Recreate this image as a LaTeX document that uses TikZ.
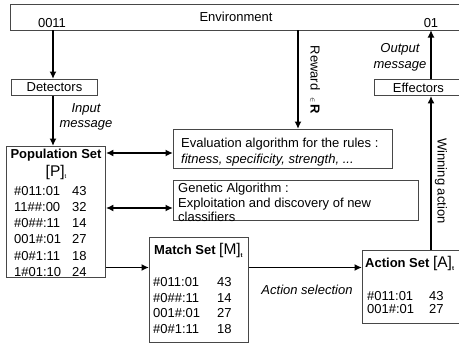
\documentclass[tikz,border=0pt]{standalone}
\usepackage{fontspec}
\setmainfont{Liberation Sans}
\usetikzlibrary{arrows.meta}
\newcommand{\tsub}{\raisebox{-2.5pt}{\fontsize{6}{6}\selectfont t}}
\begin{document}
\begin{tikzpicture}[x=1pt,y=-1pt,
  font=\fontsize{13}{15}\selectfont,
  box/.style={draw=black!72, line width=0.9pt, inner sep=0pt, anchor=north west},
  txt/.style={inner sep=0pt, text height=9.4pt, text depth=0pt},
  arr/.style={line width=1.9pt, -{Latex[length=7.5pt,width=7pt]}},
  darr/.style={line width=1.9pt, {Latex[length=7.5pt,width=7pt]}-{Latex[length=7.5pt,width=7pt]}},
  ]
\useasboundingbox (0,0) rectangle (459,348);
\begin{scope}
\clip (0,0) rectangle (459,348);

% boxes
\node[box, minimum width=460pt, minimum height=26pt] (env) at (10,4) {};
\node[box, minimum width=86pt, minimum height=16pt] (det) at (11,79) {Detectors};
\node[box, minimum width=88pt, minimum height=16pt] (eff) at (374,79) {Effectors};
\node[box, minimum width=99pt, minimum height=131pt] (pop) at (6,146) {};
\node[box, minimum width=219pt, minimum height=39pt] (eval) at (173,129) {};
\node[box, minimum width=245pt, minimum height=40pt] (gen) at (173,180) {};
\node[box, minimum width=99pt, minimum height=105pt] (match) at (149,237) {};
\node[box, minimum width=100pt, minimum height=73pt] (act) at (362,250) {};

% environment labels
\node[txt] (envlbl) at (236,17) {Environment};
\node[txt] (inmsg) at (52,23) {0011};
\node[txt] (outmsg) at (431,23) {01};

% connectors
\coordinate (in) at (53,30);
\coordinate (out) at (431,30);
\coordinate (rw) at (298,30);
\coordinate (ev) at (0,153);
\coordinate (gv) at (0,208);
\coordinate (pm) at (0,267.5);

\draw[arr] (in) -- (in |- det.north);
\draw[arr] (in |- det.south) -- (in |- pop.north);
\draw[arr] (out |- eff.north) -- (out);
\draw[arr] (act.north -| out) -- (eff.south -| out);
\draw[arr] (rw) -- (rw |- eval.north);
\draw[darr] (pop.east |- ev) -- (eval.west |- ev);
\draw[darr] (pop.east |- gv) -- (gen.west |- gv);
\draw[arr] (pop.east |- pm) -- (match.west |- pm);
\draw[arr] (match.east |- pm) -- (act.west |- pm);

% connector labels
\node[align=center, inner sep=0pt, font=\fontsize{13}{15}\selectfont\itshape] (inlbl) at (86,117) {Input\\message};
\node[align=center, inner sep=0pt, font=\fontsize{13}{16}\selectfont\itshape] (outlbl) at (400,57) {Output\\message};
\node[inner sep=0pt, rotate=-90] (rwlbl) at (315,80) {Reward\hspace{7pt}{\fontsize{7}{7}\selectfont$\in$}\hspace{2pt}\textbf{R}};
\node[inner sep=0pt, rotate=-90] (winlbl) at (441,181) {Winning action};
\node[txt, font=\fontsize{13}{15}\selectfont\itshape] (sellbl) at (307,290) {Action selection};

% evaluation and genetic algorithm
\node[txt, anchor=west] (ev1) at (181,143) {Evaluation algorithm for the rules :};
\node[txt, anchor=west] (ev2) at (181,159) {\itshape fitness, specificity, strength, ...};
\node[txt, anchor=west] (ga1) at (178,188) {Genetic Algorithm :};
\node[txt, anchor=west] (ga2) at (178,203) {Exploitation and discovery of new};
\node[txt, anchor=west] (ga3) at (178,217) {classifiers};

% population set
\node[txt] (poptitle) at (56,154) {\bfseries Population Set};
\node[inner sep=0pt] (popsym) at (56,172) {{\fontsize{15.5}{15.5}\selectfont[P]}\tsub};
\foreach \c/\n/\y [count=\i] in {\#011:01/43/191, 11\#\#:00/32/207, \#0\#\#:11/14/223, 001\#:01/27/239, \#0\#1:11/18/256, 1\#01:10/24/272}{
  \node[txt, anchor=west] (pc\i) at (14,\y) {\c};
  \node[txt, anchor=west] (pn\i) at (72,\y) {\n};
}

% match set
\node[txt, anchor=west] (mtitle) at (154,250) {\bfseries Match Set {\mdseries\fontsize{15.5}{15.5}\selectfont[M]}\tsub};
\foreach \c/\n/\y [count=\i] in {\#011:01/43/282, \#0\#\#:11/14/298, 001\#:01/27/313, \#0\#1:11/18/329}{
  \node[txt, anchor=west] (mc\i) at (153,\y) {\c};
  \node[txt, anchor=west] (mn\i) at (217,\y) {\n};
}

% action set
\node[txt, anchor=west] (atitle) at (365,263) {\bfseries Action Set {\mdseries\fontsize{15.5}{15.5}\selectfont[A]}\tsub};
\foreach \c/\n/\y [count=\i] in {\#011:01/43/296, 001\#:01/27/309}{
  \node[txt, anchor=west] (ac\i) at (367,\y) {\c};
  \node[txt, anchor=west] (an\i) at (429,\y) {\n};
}
\end{scope}
\end{tikzpicture}
\end{document}
